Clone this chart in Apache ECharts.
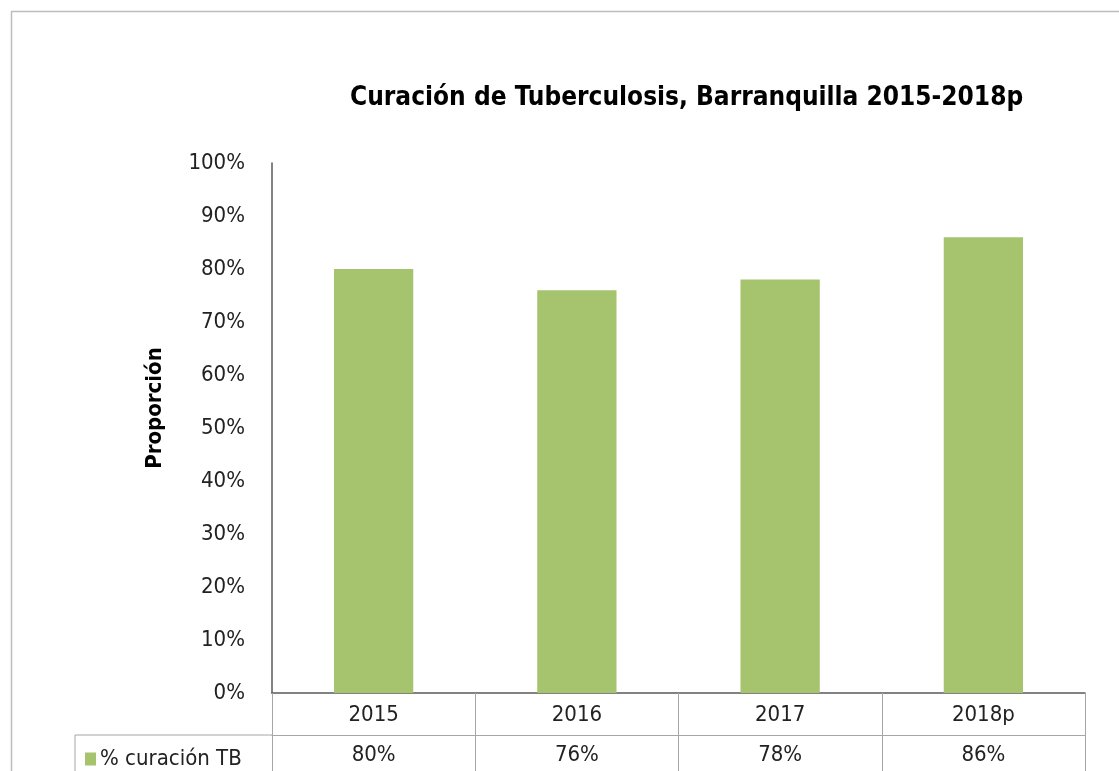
<!DOCTYPE html>
<html>
<head>
<meta charset="utf-8">
<script src="https://cdn.jsdelivr.net/npm/echarts@6/dist/echarts.min.js"></script>
<style>
html, body { margin: 0; padding: 0; background: #fff; }
#chart { width: 1119px; height: 771px; }
</style>
</head>
<body>
<div id="chart"></div>
<script>
var years = ['2015', '2016', '2017', '2018p'];
var curacion = [80, 76, 78, 86];
var yTicks = [0, 10, 20, 30, 40, 50, 60, 70, 80, 90, 100];
var seriesName = '% curación TB';

var FONT = "'DejaVu Sans Condensed', 'Liberation Sans Narrow', 'Noto Sans', sans-serif";
var green = '#a6c36e';

var chart = echarts.init(document.getElementById('chart'));

var valueLabels = curacion.map(function (v) { return v + '%'; });

var option = {
	animation : false,
	textStyle : { fontFamily : FONT },
	title : {
		text : 'Curación de Tuberculosis, Barranquilla 2015-2018p',
		left : 345,
		top : 80,
		textStyle : { fontFamily : FONT, fontSize : 26, fontWeight : 'bold', color : '#000' }
	},
	legend : {
		data : [ seriesName ],
		left : 80,
		top : 743,
		icon : 'rect',
		itemWidth : 11,
		itemHeight : 13,
		itemGap : 6,
		textStyle : { fontFamily : FONT, fontSize : 22, color : '#222', padding : [ 0, 0, 0, -1 ] }
	},
	grid : {
		left : 272,
		right : 34,
		top : 163,
		bottom : 78
	},
	xAxis : [ {
		type : 'category',
		data : years,
		position : 'bottom',
		axisLine : { lineStyle : { color : '#595959', width : 1.5 } },
		axisTick : { show : true, length : 42, lineStyle : { color : '#a6a6a6' } },
		axisLabel : { fontSize : 22, color : '#222', margin : 11, fontFamily : FONT }
	}, {
		type : 'category',
		data : valueLabels,
		position : 'bottom',
		offset : 42,
		axisLine : { show : true, lineStyle : { color : '#a6a6a6' } },
		axisTick : { show : true, length : 40, lineStyle : { color : '#a6a6a6' } },
		axisLabel : { fontSize : 22, color : '#222', margin : 9, fontFamily : FONT }
	} ],
	yAxis : {
		type : 'value',
		min : 0,
		max : 100,
		interval : 10,
		axisLine : { show : true, lineStyle : { color : '#595959', width : 1.5 } },
		axisTick : { show : false },
		splitLine : { show : false },
		axisLabel : {
			fontSize : 22,
			color : '#222',
			margin : 27,
			fontFamily : FONT,
			formatter : function (v) { return yTicks.indexOf(v) >= 0 ? v + '%' : ''; }
		}
	},
	series : [ {
		name : seriesName,
		type : 'bar',
		data : curacion,
		barWidth : '39%',
		itemStyle : { color : green }
	} ],
	graphic : [ {
		type : 'rect',
		shape : { x : 11.5, y : 11.5, width : 1200, height : 800 },
		style : { fill : 'none', stroke : '#bdbdbd', lineWidth : 1.5 },
		silent : true
	}, {
		type : 'text',
		x : 155,
		y : 408,
		rotation : Math.PI / 2,
		style : {
			text : 'Proporción',
			font : 'bold 22px ' + FONT,
			fill : '#000',
			align : 'center',
			verticalAlign : 'middle'
		},
		silent : true
	}, {
		type : 'line',
		shape : { x1 : 75, y1 : 735, x2 : 272, y2 : 735 },
		style : { stroke : '#a6a6a6', lineWidth : 1 },
		silent : true
	}, {
		type : 'line',
		shape : { x1 : 75, y1 : 735, x2 : 75, y2 : 780 },
		style : { stroke : '#a6a6a6', lineWidth : 1 },
		silent : true
	} ]
};

chart.setOption(option);
</script>
</body>
</html>
